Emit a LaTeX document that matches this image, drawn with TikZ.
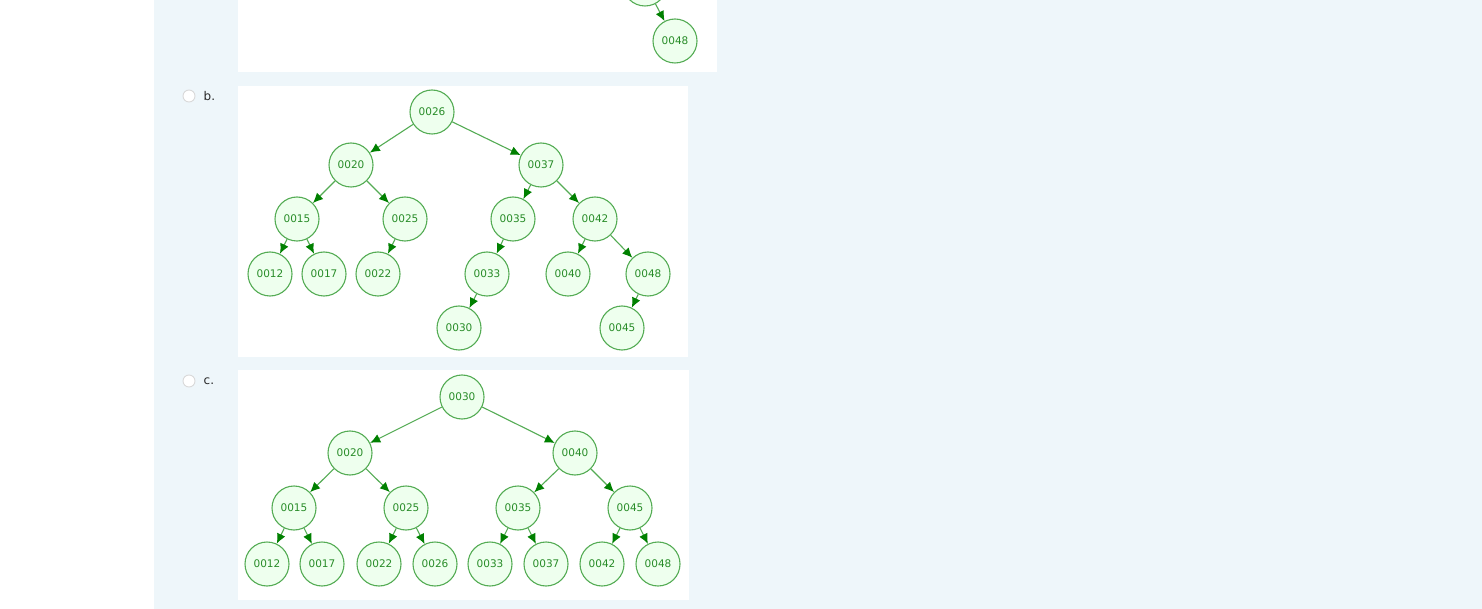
\documentclass[tikz,border=0pt]{standalone}
\usepackage{fontspec}
\setmainfont{DejaVu Sans}
\usepackage{xcolor}
\usetikzlibrary{arrows.meta,positioning}
\definecolor{pagebg}{RGB}{238,246,250}
\definecolor{nodefill}{RGB}{238,255,238}
\definecolor{nodeline}{RGB}{84,172,84}
\definecolor{nodetext}{RGB}{40,140,40}
\definecolor{tipgreen}{RGB}{0,128,0}
\definecolor{labeltext}{RGB}{40,40,40}
\tikzstyle{key} = [circle, draw=nodeline, fill=nodefill, line width=1.1pt, minimum size=44pt, inner sep=0pt, text=nodetext, font=\fontsize{10.5}{12}\selectfont]
\tikzstyle{link} = [draw=nodeline, line width=1.1pt, -{Latex[length=10pt,width=9pt,color=tipgreen]}]
\tikzstyle{panel} = [fill=white, draw=none]
\tikzstyle{radio} = [circle, draw=gray!30, fill=white, minimum size=12pt, inner sep=0pt, line width=0.9pt]
\tikzstyle{choice} = [inner sep=0pt, text=labeltext, font=\fontsize{12}{14}\selectfont]

\begin{document}
\begin{tikzpicture}[x=1pt, y=-1pt]
    \useasboundingbox (0,0) rectangle (1482,609);
    \fill[white] (0,0) rectangle (1482,609);
    \fill[pagebg] (154,0) rectangle (1482,609);
    % answer panels
    \fill[panel] (238,0) rectangle (717,72);
    \fill[panel] (238,86) rectangle (688,357);
    \fill[panel] (238,370) rectangle (689,600);
    % tail of option a
    \node[key] (a0) at (645,-16) {};
    \node[key] (a48) at (675,41) {0048};
    \draw[link] (a0) -- (a48);
    % option b
    \node[radio] (rb) at (189,96) {};
    \node[choice, right=8pt of rb] {b.};
    \node[key] (b26) at (432,112) {0026};
    \node[key] (b20) at (351,165) {0020};
    \node[key] (b37) at (541,165) {0037};
    \node[key] (b15) at (297,219) {0015};
    \node[key] (b25) at (405,219) {0025};
    \node[key] (b35) at (513,219) {0035};
    \node[key] (b42) at (595,219) {0042};
    \node[key] (b12) at (270,274) {0012};
    \node[key] (b17) at (324,274) {0017};
    \node[key] (b22) at (378,274) {0022};
    \node[key] (b33) at (487,274) {0033};
    \node[key] (b40) at (568,274) {0040};
    \node[key] (b48) at (648,274) {0048};
    \node[key] (b30) at (459,328) {0030};
    \node[key] (b45) at (622,328) {0045};
    \draw[link] (b26) -- (b20);
    \draw[link] (b26) -- (b37);
    \draw[link] (b20) -- (b15);
    \draw[link] (b20) -- (b25);
    \draw[link] (b15) -- (b12);
    \draw[link] (b15) -- (b17);
    \draw[link] (b25) -- (b22);
    \draw[link] (b37) -- (b35);
    \draw[link] (b37) -- (b42);
    \draw[link] (b35) -- (b33);
    \draw[link] (b33) -- (b30);
    \draw[link] (b42) -- (b40);
    \draw[link] (b42) -- (b48);
    \draw[link] (b48) -- (b45);
    % option c
    \node[radio] (rc) at (189,381) {};
    \node[choice, right=8pt of rc] {c.};
    \node[key] (c30) at (462,397) {0030};
    \node[key] (c20) at (350,453) {0020};
    \node[key] (c40) at (575,453) {0040};
    \node[key] (c15) at (294,508) {0015};
    \node[key] (c25) at (406,508) {0025};
    \node[key] (c35) at (518,508) {0035};
    \node[key] (c45) at (630,508) {0045};
    \node[key] (c12) at (267,564) {0012};
    \node[key] (c17) at (322,564) {0017};
    \node[key] (c22) at (379,564) {0022};
    \node[key] (c26) at (435,564) {0026};
    \node[key] (c33) at (490,564) {0033};
    \node[key] (c37) at (546,564) {0037};
    \node[key] (c42) at (602,564) {0042};
    \node[key] (c48) at (658,564) {0048};
    \draw[link] (c30) -- (c20);
    \draw[link] (c30) -- (c40);
    \draw[link] (c20) -- (c15);
    \draw[link] (c20) -- (c25);
    \draw[link] (c40) -- (c35);
    \draw[link] (c40) -- (c45);
    \draw[link] (c15) -- (c12);
    \draw[link] (c15) -- (c17);
    \draw[link] (c25) -- (c22);
    \draw[link] (c25) -- (c26);
    \draw[link] (c35) -- (c33);
    \draw[link] (c35) -- (c37);
    \draw[link] (c45) -- (c42);
    \draw[link] (c45) -- (c48);
\end{tikzpicture}
\end{document}
